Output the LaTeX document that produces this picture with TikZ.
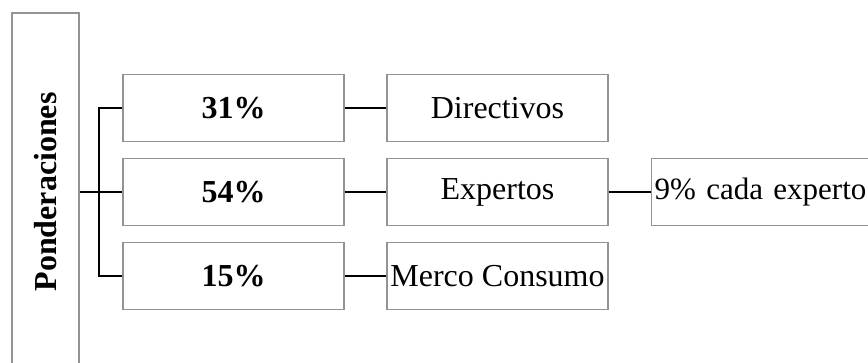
\documentclass[tikz,border=0pt]{standalone}
\usepackage{fontspec}
\setmainfont{Liberation Serif}
\begin{document}
\begin{tikzpicture}[x=1pt,y=1pt,
  box/.style={draw=boxgray,line width=1.3pt,fill=white,minimum width=221pt,minimum height=67pt,inner sep=0pt},
  conn/.style={draw=black,line width=2pt},
  every node/.style={font=\fontsize{32}{38}\selectfont}]
\definecolor{boxgray}{HTML}{939393}
\clip (0,0) rectangle (868,363);
\useasboundingbox (0,0) rectangle (868,363);
% tall title box, running past the lower edge
\node[box,rotate=90,minimum width=358pt,minimum height=67pt,font=\fontsize{32}{38}\selectfont\bfseries] (P) at (45.5,171) {Ponderaciones};
% weight boxes
\node[box,font=\fontsize{32}{38}\selectfont\bfseries] (p31) at (233.5,255) {31\%};
\node[box,font=\fontsize{32}{38}\selectfont\bfseries] (p54) at (233.5,171) {54\%};
\node[box,font=\fontsize{32}{38}\selectfont\bfseries] (p15) at (233.5,87) {15\%};
% groups
\node[box] (dir) at (497.5,255) {Directivos};
\node[box] (exp) at (497.5,171) {Expertos};
\node[box] (mer) at (497.5,87) {Merco Consumo};
% detail box, running past the right edge
\node[box,minimum width=229pt,text width=223pt,inner xsep=3pt,align=left,anchor=west,font=\fontsize{31}{38}\selectfont] (cada) at (651,171) {9\% cada experto};
% bracket from the title to the weights
\draw[conn] (P.south) -- (p54.west);
\draw[conn] (p31.west) -- ++(-23,0) coordinate (bus) -- (bus |- p15.west) -- (p15.west);
% weight to group links
\draw[conn] (p31.east) -- (dir.west);
\draw[conn] (p54.east) -- (exp.west);
\draw[conn] (p15.east) -- (mer.west);
\draw[conn] (exp.east) -- (cada.west);
\end{tikzpicture}
\end{document}
